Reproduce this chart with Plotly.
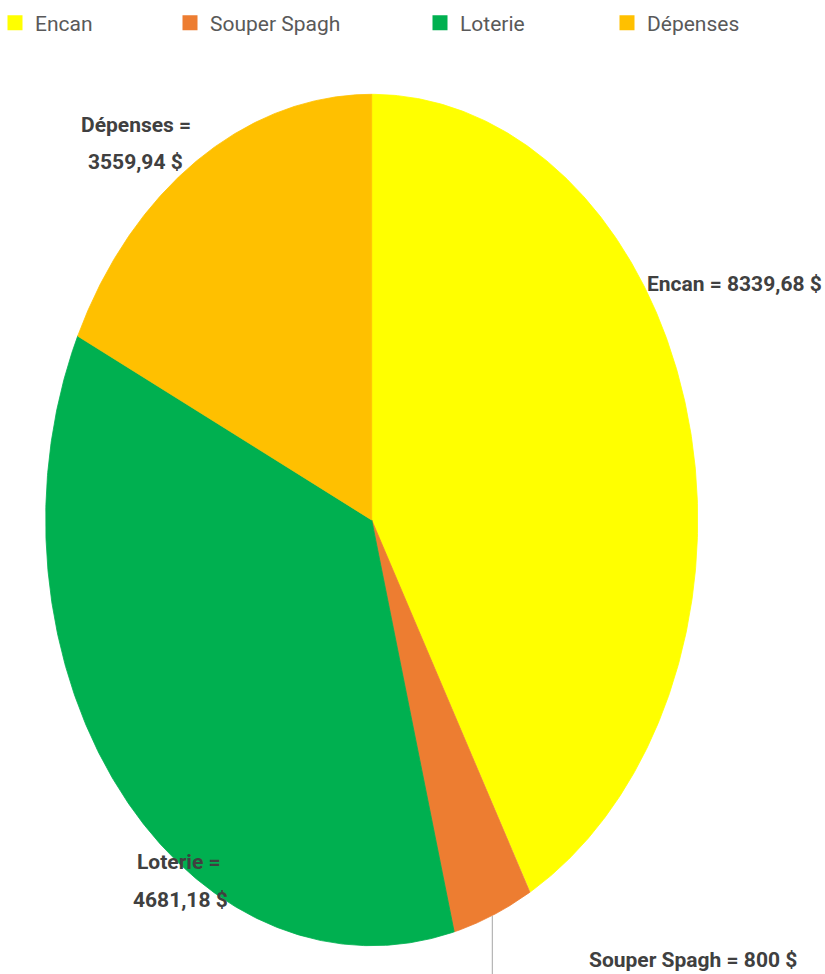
import numpy as np
import plotly.graph_objects as go

# ---- data ----
categories = ["Encan", "Souper Spagh", "Loterie", "Dépenses"]
slice_values = [8339.68, 800, 7200, 3559.94]          # sizes of the drawn slices
label_amounts = ["8339,68 $", "800 $", "4681,18 $", "3559,94 $"]  # amounts printed on labels
colors = ["#FFFF00", "#ED7D31", "#00B050", "#FFC000"]

W, H = 825, 974
FONT = "Roboto, Liberation Sans, sans-serif"

fig = go.Figure()

# slices (angles from 12 o'clock, clockwise) built from the values
total = float(sum(slice_values))
cum = np.concatenate([[0.0], np.cumsum(slice_values)]) / total * 2 * np.pi
for i, cat in enumerate(categories):
    th = np.linspace(cum[i], cum[i + 1], 300)
    xs = np.concatenate([[0.0], np.sin(th), [0.0]])
    ys = np.concatenate([[0.0], np.cos(th), [0.0]])
    fig.add_trace(go.Scatter(
        x=xs, y=ys, mode="lines", fill="toself", fillcolor=colors[i],
        line=dict(width=0.8, color=colors[i]), showlegend=False,
        hoverinfo="text", text=f"{cat}: {slice_values[i]}",
    ))

# legend entries, each in its own legend so spacing matches the reference
legend_left_px = [-5, 170, 420, 607]
for i, cat in enumerate(categories):
    lname = "legend" if i == 0 else f"legend{i+1}"
    fig.add_trace(go.Scatter(
        x=[None], y=[None], mode="markers", name=cat,
        marker=dict(symbol="square", size=15, color=colors[i]),
        legend=lname, showlegend=True,
    ))
    fig.update_layout(**{lname: dict(
        x=legend_left_px[i] / W, xanchor="left", y=1 - 23 / H, yanchor="middle",
        orientation="h", bgcolor="rgba(0,0,0,0)", borderwidth=0,
        font=dict(family=FONT, size=21, color="#595959"),
        itemclick=False, itemdoubleclick=False,
    )})

# data labels (one annotation per printed line)
lab_font = dict(family=FONT, size=21, color="#404040")
label_lines = [
    (f"<b>{categories[0]} = {label_amounts[0]}</b>", 734, 284),
    (f"<b>{categories[1]} = {label_amounts[1]}</b>", 693, 960),
    (f"<b>{categories[2]} =</b>", 179, 862),
    (f"<b>{label_amounts[2]}</b>", 180, 900),
    (f"<b>{categories[3]} =</b>", 136, 125),
    (f"<b>{label_amounts[3]}</b>", 135, 162),
]
for txt, px, py in label_lines:
    fig.add_annotation(text=txt, x=px / W, y=1 - py / H, xref="paper", yref="paper",
                       xanchor="center", yanchor="middle", showarrow=False,
                       font=lab_font, align="center")

# leader line for Souper Spagh label
fig.add_shape(type="line", xref="paper", yref="paper",
              x0=492.3 / W, x1=492.3 / W, y0=1 - 916 / H, y1=0,
              line=dict(color="#A6A6A6", width=1))

cx, cy, rx, ry = 371.7, 520.0, 326.0, 425.7
fig.update_layout(
    width=W, height=H, margin=dict(l=0, r=0, t=0, b=0, autoexpand=False),
    paper_bgcolor="white", plot_bgcolor="white",
    xaxis=dict(range=[-cx / rx, (W - cx) / rx], visible=False, fixedrange=True),
    yaxis=dict(range=[-(H - cy) / ry, cy / ry], visible=False, fixedrange=True),
    font=dict(family=FONT),
)

fig.write_html("out.html", config={"displayModeBar": False},
               post_script="document.body.style.margin='0';document.body.style.overflow='hidden';")
